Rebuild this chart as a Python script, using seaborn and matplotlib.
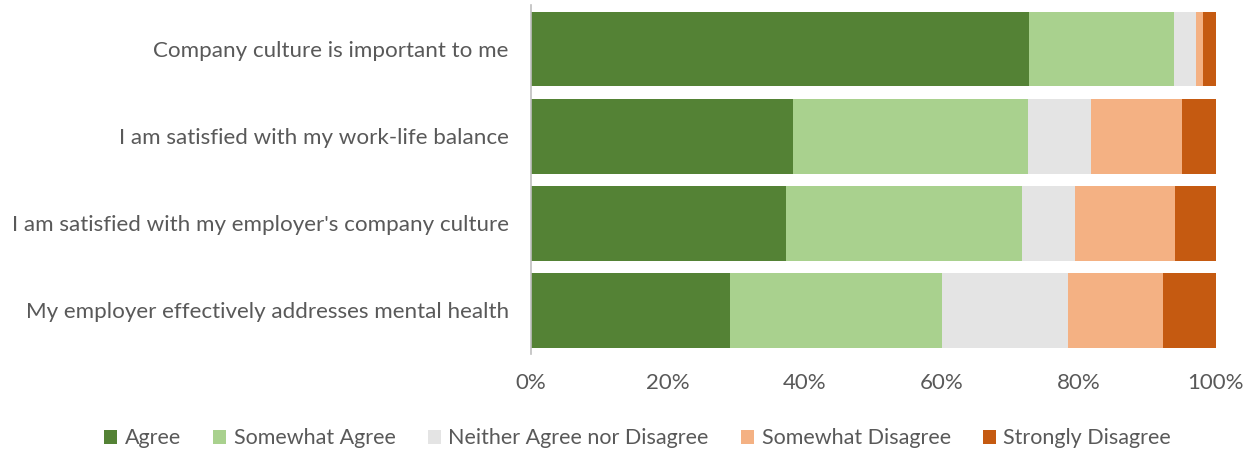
import numpy as np
import pandas as pd
import matplotlib
matplotlib.use("Agg")
import matplotlib.pyplot as plt
from matplotlib.patches import Patch
import seaborn as sns

statements = [
    "Company culture is important to me",
    "I am satisfied with my work-life balance",
    "I am satisfied with my employer's company culture",
    "My employer effectively addresses mental health",
]
responses = ["Agree", "Somewhat Agree", "Neither Agree nor Disagree",
             "Somewhat Disagree", "Strongly Disagree"]

agree = [72.8, 38.3, 37.2, 29.1]
somewhat_agree = [21.2, 34.3, 34.5, 31.0]
neither = [3.1, 9.2, 7.8, 18.3]
somewhat_disagree = [1.0, 13.3, 14.6, 13.9]
strongly_disagree = [1.9, 4.9, 5.9, 7.7]

colors = ["#548235", "#A9D18E", "#E4E4E4", "#F4B183", "#C55A11"]

sns.set_theme(style="white")
plt.rcParams["font.family"] = ["Lato", "DejaVu Sans"]
text_color = "#595959"

df = pd.DataFrame({
    "statement": statements,
    responses[0]: agree,
    responses[1]: somewhat_agree,
    responses[2]: neither,
    responses[3]: somewhat_disagree,
    responses[4]: strongly_disagree,
})
cum = df[responses].cumsum(axis=1)
cum.insert(0, "statement", statements)

fig = plt.figure(figsize=(12.48, 4.51), dpi=100)
ax = fig.add_axes([0.4255, 0.215, 0.5485, 0.773])

# stacked bars: draw cumulative totals from the outermost segment inward
for resp, col in reversed(list(zip(responses, colors))):
    sns.barplot(data=cum, x=resp, y="statement", orient="h", color=col,
                width=0.86, ax=ax, saturation=1, linewidth=0)

ax.set_xlim(0, 100)
ax.set_ylim(3.5, -0.5)
ax.set_xticks(np.arange(0, 101, 20))
ax.set_xticklabels([f"{v}%" for v in range(0, 101, 20)])
ax.set_xlabel("")
ax.set_ylabel("")
for s in ["top", "right", "bottom"]:
    ax.spines[s].set_visible(False)
ax.spines["left"].set_color("#BFBFBF")
ax.spines["left"].set_linewidth(1.2)
ax.tick_params(axis="x", length=0, pad=14, labelsize=16, colors=text_color)
ax.tick_params(axis="y", length=0, pad=16, labelsize=16.1, colors=text_color)

handles = [Patch(facecolor=c, edgecolor="none") for c in colors]
fig.legend(handles, responses, loc="center", bbox_to_anchor=(0.511, 0.028),
           ncol=5, frameon=False, fontsize=15.5, handlelength=0.6,
           handleheight=0.6, handletextpad=0.35, columnspacing=1.5,
           labelcolor=text_color)

fig.savefig("out.png", dpi=100)
